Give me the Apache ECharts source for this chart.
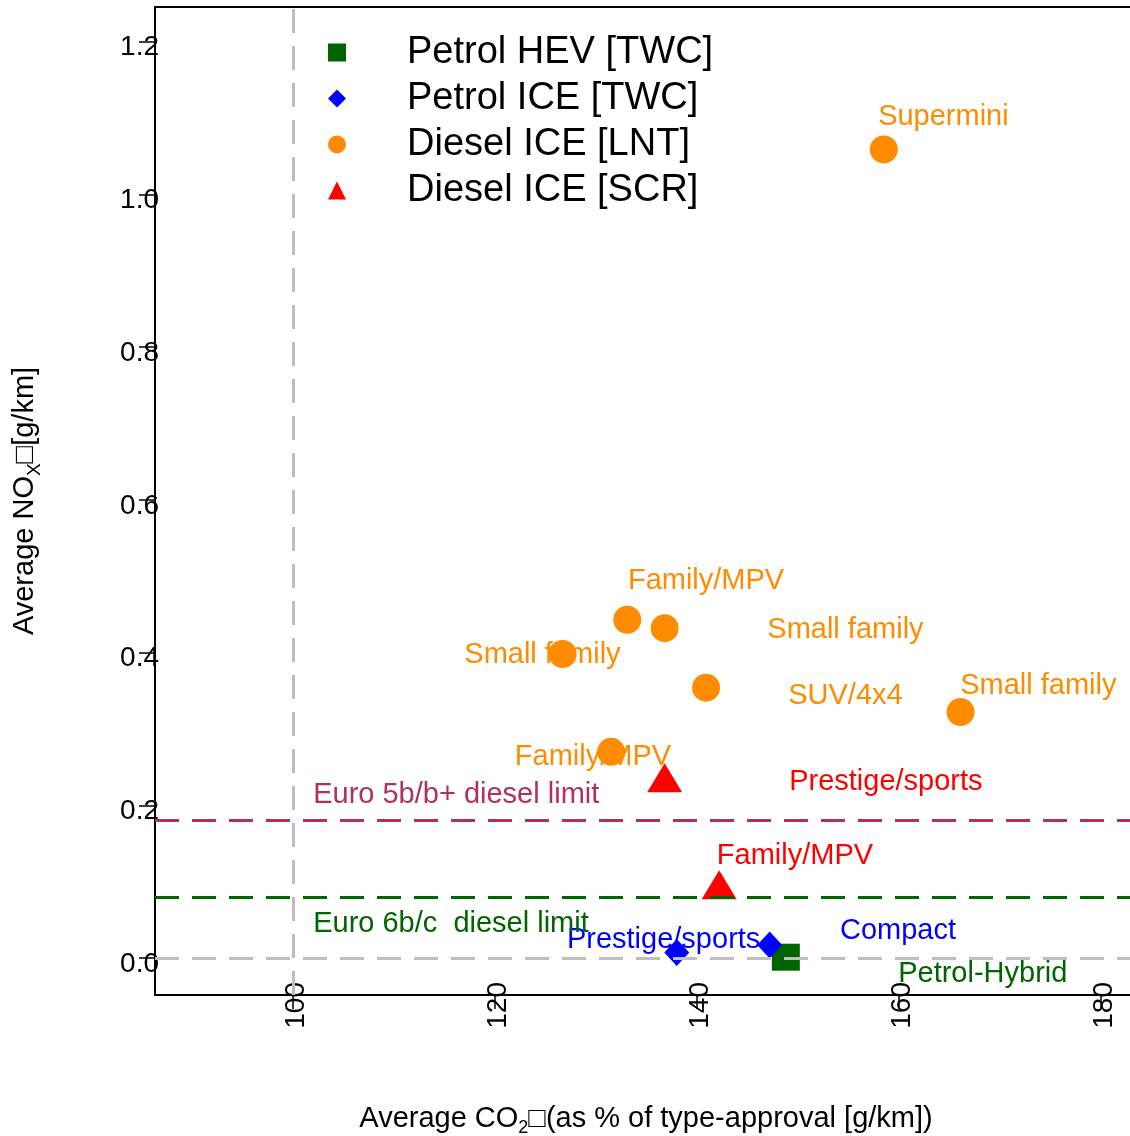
<!DOCTYPE html>
<html>
<head>
<meta charset="utf-8">
<script src="https://cdn.jsdelivr.net/npm/echarts@6/dist/echarts.min.js"></script>
<style>
  html, body { margin: 0; padding: 0; background: #fff; overflow: hidden; }
  #chart { width: 1130px; height: 1136px; }
</style>
</head>
<body>
<div id="chart"></div>
<script>
// Powertrain groups shown in the legend
const seriesNames = ['Petrol HEV [TWC]', 'Petrol ICE [TWC]', 'Diesel ICE [LNT]', 'Diesel ICE [SCR]'];

// [average CO2 (% of type-approval), average NOx (g/km)]
const petrolHev = [[148.8, 0.001]];
const petrolIce = [[138.0, 0.007], [147.2, 0.017]];
const dieselLnt = [[158.5, 1.059], [133.1, 0.443], [136.8, 0.432], [126.7, 0.398],
                   [140.9, 0.354], [166.1, 0.322], [131.5, 0.270]];
const dieselScr = [[136.8, 0.236], [142.2, 0.096]];

// Reference levels
const co2Reference = 100;
const euro5Limit = 0.18;
const euro6Limit = 0.08;

// Tick labels
const xTicks = [100, 120, 140, 160, 180];
const yTicks = [0, 0.2, 0.4, 0.6, 0.8, 1.0, 1.2];

// Vehicle segment annotations, anchored in data units
const noteText  = ['Supermini', 'Family/MPV', 'Small family', 'Small family', 'SUV/4x4', 'Small family', 'Family/MPV',
                   'Prestige/sports', 'Family/MPV', 'Prestige/sports', 'Compact', 'Petrol-Hybrid'];
const noteX     = [164.4, 140.9, 154.7, 124.7, 154.7, 173.8, 129.7, 158.7, 149.7, 136.7, 159.9, 168.3];
const noteY     = [1.102, 0.494, 0.430, 0.397, 0.343, 0.356, 0.263, 0.231, 0.134, 0.024, 0.035, -0.021];
const noteGroup = [2, 2, 2, 2, 2, 2, 2, 3, 3, 1, 1, 0];

const limitText = ['Euro 5b/b+ diesel limit', 'Euro 6b/c  diesel limit'];
const limitTextX = [102.0, 102.0];
const limitTextY = [0.214, 0.045];

const groupColor = ['#006400', '#0000FF', '#FF8C00', '#FF0000'];
const groupSymbol = ['rect', 'diamond', 'circle', 'triangle'];
const groupSize = [[28, 27], [25, 27], 28, [35, 29]];
const euro5Color = '#B03060';
const euro6Color = '#006400';
const refColor = '#BEBEBE';

const FONT = '"Liberation Sans", Arial, sans-serif';

const chart = echarts.init(document.getElementById('chart'), null, { renderer: 'canvas' });

const pointSeries = [petrolHev, petrolIce, dieselLnt, dieselScr].map((d, i) => ({
  name: seriesNames[i],
  type: 'scatter',
  data: d,
  symbol: groupSymbol[i],
  symbolSize: groupSize[i],
  itemStyle: { color: groupColor[i], opacity: 1 },
  z: 3,
  silent: true
}));

const noteSeries = {
  name: 'notes',
  type: 'scatter',
  symbolSize: 0,
  silent: true,
  z: 5,
  itemStyle: { opacity: 1 },
  data: noteText.map((t, i) => ({
    value: [noteX[i], noteY[i]],
    label: {
      show: true, position: 'inside', formatter: t, opacity: 1,
      color: groupColor[noteGroup[i]], fontSize: 29, fontFamily: FONT
    }
  })).concat(limitText.map((t, i) => ({
    value: [limitTextX[i], limitTextY[i]],
    label: {
      show: true, position: 'right', distance: 0, formatter: t, opacity: 1,
      color: i === 0 ? euro5Color : euro6Color, fontSize: 29, fontFamily: FONT
    }
  })))
};

const dashed = (color) => ({ color, type: [24, 13], width: 3, opacity: 1 });

const limitSeries = {
  name: 'limits',
  type: 'scatter',
  data: [],
  z: 4,
  markLine: {
    silent: true,
    symbol: 'none',
    animation: false,
    label: { show: false },
    emphasis: { disabled: true },
    data: [
      { xAxis: co2Reference, lineStyle: dashed(refColor) },
      { yAxis: 0, lineStyle: dashed(refColor) },
      { yAxis: euro5Limit, lineStyle: dashed(euro5Color) },
      { yAxis: euro6Limit, lineStyle: dashed(euro6Color) }
    ]
  }
};

const tickText = { fontSize: 28, color: '#000', fontFamily: FONT };

const option = {
  backgroundColor: '#fff',
  animation: false,
  textStyle: { fontFamily: FONT },
  grid: {
    left: 155, top: 7, width: 1000, height: 988,
    outerBoundsMode: 'none',
    containLabel: false,
    show: true, borderColor: '#000', borderWidth: 2, backgroundColor: 'transparent'
  },
  legend: {
    data: seriesNames,
    orient: 'vertical',
    left: 328, top: 33,
    padding: 0,
    itemWidth: 18, itemHeight: 18,
    itemGap: 7,
    selectedMode: false,
    textStyle: { fontSize: 38, color: '#000', fontFamily: FONT, lineHeight: 39, padding: [0, 0, 0, 56] }
  },
  xAxis: {
    type: 'value',
    min: 86.34, max: 185.35,
    name: 'Average CO{sub|2}□(as % of type-approval [g/km])',
    nameLocation: 'middle',
    nameGap: 106,
    nameTextStyle: {
      fontSize: 29, color: '#000', fontFamily: FONT, lineHeight: 36, padding: [0, 18, 0, 0],
      rich: { sub: { fontSize: 18, verticalAlign: 'bottom', lineHeight: 36, color: '#000', fontFamily: FONT } }
    },
    splitLine: { show: false },
    axisLine: { show: true, onZero: false, lineStyle: { color: '#000', width: 2 } },
    axisTick: { show: true, length: 14, customValues: xTicks, lineStyle: { color: '#000', width: 1.5 } },
    axisLabel: {
      customValues: xTicks, rotate: 90, margin: -13,
      formatter: (v) => '{t|' + v + '}',
      rich: { t: Object.assign({ padding: [6, 0, 0, 0] }, tickText) }
    }
  },
  yAxis: {
    type: 'value',
    min: -0.0485, max: 1.2455,
    name: 'Average NO{sub|X}□[g/km]',
    nameLocation: 'middle',
    nameRotate: 90,
    nameGap: 111,
    nameTextStyle: {
      fontSize: 29, color: '#000', fontFamily: FONT, lineHeight: 36,
      rich: { sub: { fontSize: 19, verticalAlign: 'bottom', lineHeight: 38, color: '#000', fontFamily: FONT } }
    },
    splitLine: { show: false },
    axisLine: { show: true, onZero: false, lineStyle: { color: '#000', width: 2 } },
    axisTick: { show: true, length: 16, customValues: yTicks, lineStyle: { color: '#000', width: 1.5 } },
    axisLabel: {
      customValues: yTicks, margin: -4,
      formatter: (v) => '{t|' + v.toFixed(1) + '}',
      rich: { t: Object.assign({ padding: [12, 0, 0, 0] }, tickText) }
    }
  },
  series: pointSeries.concat([limitSeries, noteSeries])
};

chart.setOption(option);
</script>
</body>
</html>
